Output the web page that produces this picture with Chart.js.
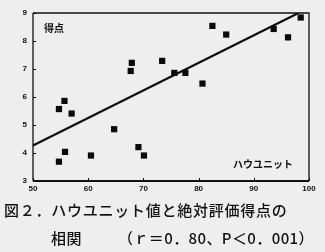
<!DOCTYPE html>
<html>
<head>
<meta charset="utf-8">
<script src="https://cdn.jsdelivr.net/npm/chart.js@4"></script>
<style>
  html, body { margin:0; padding:0; background:#eeeeee; }
  #wrap { position:relative; width:325px; height:252px; overflow:hidden; }
  canvas { position:absolute; left:0; top:0; }
  .cap { position:absolute; font-family:"Noto Sans CJK JP", sans-serif; font-size:15px; line-height:15px; color:#111; white-space:pre; font-weight:500; }
</style>
</head>
<body>
<div id="wrap">
  <canvas id="c" width="325" height="200"></canvas>
  <div class="cap" id="cap1" style="left:4px; top:202px; letter-spacing:0.75px;">図２．ハウユニット値と絶対評価得点の</div>
  <div class="cap" id="cap2a" style="left:51px; top:230px; letter-spacing:0.5px;">相関</div>
  <div class="cap" id="cap2b" style="left:118px; top:230px; letter-spacing:0.4px;">（ｒ＝0．80、P＜0．001）</div>
</div>
<script>
// Data
const hauUnit = [54.7, 54.7, 55.7, 55.8, 57.0, 60.5, 64.7, 67.7, 67.9, 69.1, 70.1, 73.4, 75.6, 77.6, 80.7, 82.5, 85.0, 93.6, 96.2, 98.5];
const score   = [3.69, 5.57, 5.86, 4.04, 5.41, 3.91, 4.85, 6.93, 7.22, 4.21, 3.91, 7.29, 6.86, 6.86, 6.48, 8.54, 8.23, 8.43, 8.13, 8.84];
const fitX = [50, 98.1];
const fitY = [4.27, 9.0];
const xTicks = [50, 60, 70, 80, 90, 100];
const yTicks = [3, 4, 5, 6, 7, 8, 9];
const yLabel = '得点';
const xLabel = 'ハウユニット';

const points = hauUnit.map((x, i) => ({x: x, y: score[i]}));
const fitLine = fitX.map((x, i) => ({x: x, y: fitY[i]}));

const framePlugin = {
  id: 'frame',
  afterDraw(chart) {
    const {ctx, chartArea: a, scales} = chart;
    ctx.save();
    ctx.strokeStyle = '#111';
    ctx.lineWidth = 1.3;
    ctx.beginPath();
    ctx.moveTo(a.left, a.top); ctx.lineTo(a.right, a.top); ctx.lineTo(a.right, a.bottom);
    ctx.stroke();
    ctx.beginPath();
    ctx.moveTo(a.left, a.top); ctx.lineTo(a.left, a.bottom);
    ctx.stroke();
    ctx.lineWidth = 2;
    ctx.beginPath();
    ctx.moveTo(a.left, a.bottom); ctx.lineTo(a.right, a.bottom);
    ctx.stroke();
    // inward ticks
    ctx.lineWidth = 1;
    yTicks.forEach(v => {
      const y = Math.round(scales.y.getPixelForValue(v)) + 0.5;
      ctx.beginPath(); ctx.moveTo(a.left, y); ctx.lineTo(a.left + 3, y); ctx.stroke();
    });
    xTicks.forEach(v => {
      const x = Math.round(scales.x.getPixelForValue(v)) + 0.5;
      ctx.beginPath(); ctx.moveTo(x, a.bottom); ctx.lineTo(x, a.bottom - 3); ctx.stroke();
    });
    // in-plot labels
    ctx.fillStyle = '#111';
    ctx.font = 'bold 10px "Noto Sans CJK JP", sans-serif';
    ctx.textBaseline = 'middle';
    ctx.textAlign = 'left';
    ctx.fillText(yLabel, a.left + 11, a.top + 15);
    ctx.fillText(xLabel, a.left + 200, a.bottom - 17);
    ctx.restore();
  }
};

new Chart(document.getElementById('c'), {
  type: 'scatter',
  data: {
    datasets: [
      {
        data: points,
        pointStyle: 'rect',
        pointRadius: 4.4,
        pointBorderWidth: 0,
        backgroundColor: '#0a0a0a',
        borderColor: '#0a0a0a',
        showLine: false
      },
      {
        type: 'line',
        data: fitLine,
        borderColor: '#0a0a0a',
        borderWidth: 2.2,
        pointRadius: 0,
        fill: false
      }
    ]
  },
  options: {
    responsive: false,
    animation: false,
    events: [],
    layout: { padding: { top: 13, right: 16, left: 0, bottom: 0 } },
    plugins: { legend: { display: false }, tooltip: { enabled: false }, title: { display: false } },
    scales: {
      x: {
        type: 'linear',
        min: 50, max: 100,
        afterBuildTicks: s => { s.ticks = xTicks.map(v => ({value: v})); },
        afterFit: s => { s.height = 19; },
        grid: { display: false, drawTicks: false },
        border: { display: false },
        ticks: { color: '#111', padding: 3, maxRotation: 0, font: { family: 'Liberation Sans, Arial, sans-serif', size: 8, weight: 'bold' } }
      },
      y: {
        type: 'linear',
        min: 3, max: 9,
        afterBuildTicks: s => { s.ticks = yTicks.map(v => ({value: v})); },
        afterFit: s => { s.width = 33; },
        grid: { display: false, drawTicks: false },
        border: { display: false },
        ticks: { color: '#111', padding: 6, font: { family: 'Liberation Sans, Arial, sans-serif', size: 8, weight: 'bold' } }
      }
    }
  },
  plugins: [framePlugin]
});
</script>
</body>
</html>
